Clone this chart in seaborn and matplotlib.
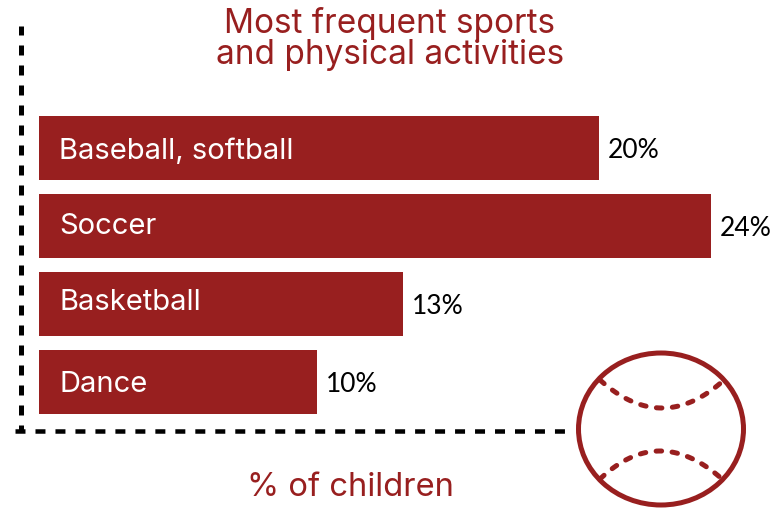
import numpy as np
import pandas as pd
import matplotlib
matplotlib.use('Agg')
import matplotlib.pyplot as plt
from matplotlib.patches import Ellipse
import seaborn as sns

activities = ['Baseball, softball', 'Soccer', 'Basketball', 'Dance']
percent = [20, 24, 13, 9.93]
percent_labels = ['20%', '24%', '13%', '10%']
title_lines = ['Most frequent sports', 'and physical activities']
xlabel_text = '% of children'

W, H = 773, 508
RED = '#981f1f'
PX = 72 / 100  # points per pixel at dpi 100

sns.set_theme(style='white')
plt.rcParams['font.family'] = ['Inter', 'DejaVu Sans']

df = pd.DataFrame({'activity': activities, 'percent': percent})

fig = plt.figure(figsize=(W / 100, H / 100), dpi=100)
# axes runs from x=15 to 565 px, y=26 to 431 px, so 28 px per percent
ax = fig.add_axes([15 / W, 1 - 431 / H, 550 / W, 405 / H])
ax.patch.set_alpha(0)

sns.barplot(data=df, x='percent', y='activity', order=activities, orient='h',
            color=RED, saturation=1, width=64 / 78, linewidth=0, ax=ax)
for bar in ax.patches:
    bar.set_clip_on(False)

ax.set_xlim(-24 / 28, 526 / 28)
ax.set_ylim((431 - 148) / 78, (26 - 148) / 78)
ax.set_xticks([])
ax.set_yticks([])
ax.set_xlabel('')
ax.set_ylabel('')

# dashed axis lines
ax.spines['top'].set_visible(False)
ax.spines['right'].set_visible(False)
ax.spines['left'].set_position(('data', -17.5 / 28))
ax.spines['left'].set_linewidth(5 * PX)
ax.spines['left'].set_linestyle((0.8, (2, 2)))
ax.spines['left'].set_color('black')
ax.spines['left'].set_capstyle('butt')
ax.spines['bottom'].set_linewidth(4.5 * PX)
ax.spines['bottom'].set_linestyle((0, (2.22, 2.22)))
ax.spines['bottom'].set_color('black')
ax.spines['bottom'].set_capstyle('butt')

# small per-row nudges (px) as in the reference
name_nudge = [3, 1, -2, 2]
value_nudge = [3, 2, 3, 3]
for i, name in enumerate(activities):
    ax.text(20 / 28, i + name_nudge[i] / 78, name, color='white', fontsize=21,
            va='center', ha='left', clip_on=False)
    ax.text(percent[i] + 8.5 / 28, i + value_nudge[i] / 78, percent_labels[i], color='black',
            fontsize=19, family=['Lato', 'DejaVu Sans'], va='center', ha='left', clip_on=False)

fig.text(390 / W, 1 - 23 / H, title_lines[0], color=RED, fontsize=24, ha='center', va='center')
fig.text(390 / W, 1 - 55 / H, title_lines[1], color=RED, fontsize=24, ha='center', va='center')
fig.text(350.5 / W, 1 - 487 / H, xlabel_text, color=RED, fontsize=23.6, ha='center', va='center')

# baseball icon, in pixel coordinates
deco = fig.add_axes([0, 0, 1, 1])
deco.set_xlim(0, W)
deco.set_ylim(H, 0)
deco.axis('off')
deco.add_patch(Ellipse((661, 429), 165, 152, fill=False, ec=RED, lw=5 * PX, clip_on=False))

def seam(x0, y0, xm, ym, x1, y1):
    t = np.linspace(0, 1, 60)
    cx, cy = 2 * xm - (x0 + x1) / 2, 2 * ym - (y0 + y1) / 2
    xs = (1 - t) ** 2 * x0 + 2 * t * (1 - t) * cx + t ** 2 * x1
    ys = (1 - t) ** 2 * y0 + 2 * t * (1 - t) * cy + t ** 2 * y1
    deco.plot(xs, ys, color=RED, lw=5 * PX, ls=(0, (1.1, 2.1)), dash_capstyle='round', clip_on=False)

seam(600, 380, 662, 408, 724, 380)
seam(600, 479, 660, 451, 722, 479)

fig.savefig('out.png', dpi=100)
